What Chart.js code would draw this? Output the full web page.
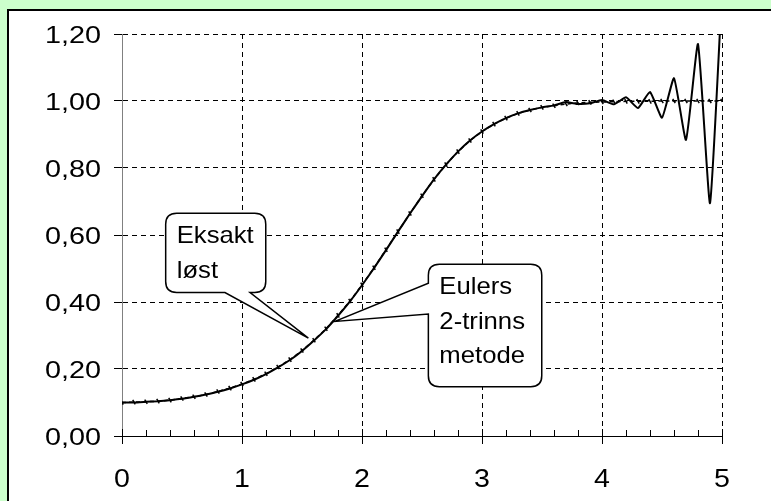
<!DOCTYPE html>
<html>
<head>
<meta charset="utf-8">
<title>Eksakt løst og Eulers 2-trinns metode</title>
<script src="https://cdn.jsdelivr.net/npm/chart.js@4/dist/chart.umd.min.js"></script>
<style>
  html, body { margin: 0; padding: 0; background: #ccffcc; }
  #wrap { position: relative; width: 771px; height: 501px; }
</style>
</head>
<body>
<div id="wrap"><canvas id="chart" width="771" height="501"></canvas></div>
<script>
// x values, step 0.1
const xValues = [
  0.0, 0.1, 0.2, 0.3, 0.4, 0.5, 0.6, 0.7, 0.8, 0.9,
  1.0, 1.1, 1.2, 1.3, 1.4, 1.5, 1.6, 1.7, 1.8, 1.9,
  2.0, 2.1, 2.2, 2.3, 2.4, 2.5, 2.6, 2.7, 2.8, 2.9,
  3.0, 3.1, 3.2, 3.3, 3.4, 3.5, 3.6, 3.7, 3.8, 3.9,
  4.0, 4.1, 4.2, 4.3, 4.4, 4.5, 4.6, 4.7, 4.8, 4.9,
  5.0
];

// "Eksakt løst"
const exactValues = [
  0.100, 0.101, 0.102, 0.104, 0.107, 0.112, 0.117, 0.124, 0.133, 0.143,
  0.155, 0.169, 0.186, 0.206, 0.228, 0.255, 0.286, 0.320, 0.360, 0.403,
  0.451, 0.502, 0.556, 0.610, 0.664, 0.717, 0.766, 0.810, 0.849, 0.882,
  0.909, 0.931, 0.949, 0.963, 0.973, 0.981, 0.986, 0.991, 0.994, 0.996,
  0.997, 0.998, 0.999, 0.999, 0.999, 1.000, 1.000, 1.000, 1.000, 1.000,
  1.000
];

// "Eulers 2-trinns metode"
const eulerValues = [
  0.100, 0.100, 0.102, 0.104, 0.107, 0.111, 0.117, 0.124, 0.132, 0.142,
  0.154, 0.168, 0.185, 0.205, 0.227, 0.254, 0.285, 0.319, 0.359, 0.402,
  0.450, 0.501, 0.555, 0.610, 0.664, 0.716, 0.766, 0.810, 0.849, 0.882,
  0.909, 0.931, 0.949, 0.963, 0.973, 0.981, 0.987, 0.997, 0.991, 0.993,
  1.003, 0.990, 1.011, 0.979, 1.027, 0.950, 1.068, 0.884, 1.170, 0.695,
  1.330
];

const yTicks = [0, 0.2, 0.4, 0.6, 0.8, 1.0, 1.2];
const xTicks = [0, 1, 2, 3, 4, 5];

const FONT = '"Liberation Sans", Arial, sans-serif';

// callouts, placed in data units
const callouts = [
  { lines: ['Eksakt', 'løst'], left: 0.364, right: 1.198, top: 0.665, bottom: 0.428,
    side: 'bottom', base: [0.858, 1.067], tip: [1.553, 0.292] },
  { lines: ['Eulers', '2-trinns', 'metode'], left: 2.553, right: 3.498, top: 0.513, bottom: 0.147,
    side: 'left', base: [0.364, 0.456], tip: [1.775, 0.342] }
];

const yLabel = (v) => v.toFixed(2).replace('.', ',');

// draw text a little wider than the font, like the original
function wideText(ctx, text, x, y, stretch, align) {
  ctx.save();
  ctx.translate(x, y);
  ctx.scale(stretch, 1);
  ctx.textAlign = align;
  ctx.textBaseline = 'alphabetic';
  ctx.fillText(text, 0, 0);
  ctx.restore();
}

const backgroundPlugin = {
  id: 'background',
  beforeDraw(chart) {
    const ctx = chart.ctx;
    ctx.save();
    ctx.fillStyle = '#ccffcc';
    ctx.fillRect(0, 0, chart.width, chart.height);
    ctx.fillStyle = '#ffffff';
    ctx.fillRect(8, 10, chart.width - 8, chart.height - 10);
    ctx.strokeStyle = '#000';
    ctx.lineWidth = 2;
    ctx.beginPath();
    ctx.moveTo(8, chart.height);
    ctx.lineTo(8, 10);
    ctx.lineTo(chart.width, 10);
    ctx.stroke();
    ctx.restore();
  }
};

const axisPlugin = {
  id: 'axisExtras',
  afterDraw(chart) {
    const ctx = chart.ctx;
    const xs = chart.scales.x;
    const ys = chart.scales.y;
    const axisY = ys.getPixelForValue(0);
    ctx.save();
    ctx.strokeStyle = '#000';
    ctx.lineWidth = 1;
    ctx.beginPath();
    for (let i = 0; i <= 25; i++) {
      const px = Math.round(xs.getPixelForValue(i * 0.2)) + 0.5;
      if (i % 5 === 0) {
        ctx.moveTo(px, axisY - 7);
        ctx.lineTo(px, axisY + 8);
      } else {
        ctx.moveTo(px, axisY - 6);
        ctx.lineTo(px, axisY);
      }
    }
    ctx.stroke();

    ctx.fillStyle = '#000';
    ctx.font = '24px ' + FONT;
    yTicks.forEach((v) => {
      wideText(ctx, yLabel(v), ys.left + 101, ys.getPixelForValue(v) + 9, 1.2, 'right');
    });
    ctx.font = '26px ' + FONT;
    xTicks.forEach((v) => {
      wideText(ctx, String(v), xs.getPixelForValue(v), axisY + 51, 1.1, 'center');
    });
    ctx.restore();
  }
};

function calloutPath(ctx, c, xs, ys) {
  const l = xs.getPixelForValue(c.left);
  const r = xs.getPixelForValue(c.right);
  const t = ys.getPixelForValue(c.top);
  const b = ys.getPixelForValue(c.bottom);
  const rad = 11;
  const tx = xs.getPixelForValue(c.tip[0]);
  const ty = ys.getPixelForValue(c.tip[1]);
  ctx.beginPath();
  ctx.moveTo(l + rad, t);
  ctx.lineTo(r - rad, t);
  ctx.quadraticCurveTo(r, t, r, t + rad);
  ctx.lineTo(r, b - rad);
  ctx.quadraticCurveTo(r, b, r - rad, b);
  if (c.side === 'bottom') {
    ctx.lineTo(xs.getPixelForValue(c.base[1]), b);
    ctx.lineTo(tx, ty);
    ctx.lineTo(xs.getPixelForValue(c.base[0]), b);
  }
  ctx.lineTo(l + rad, b);
  ctx.quadraticCurveTo(l, b, l, b - rad);
  if (c.side === 'left') {
    ctx.lineTo(l, ys.getPixelForValue(c.base[0]));
    ctx.lineTo(tx, ty);
    ctx.lineTo(l, ys.getPixelForValue(c.base[1]));
  }
  ctx.lineTo(l, t + rad);
  ctx.quadraticCurveTo(l, t, l + rad, t);
  ctx.closePath();
  return { l, t };
}

const calloutPlugin = {
  id: 'callouts',
  afterDatasetsDraw(chart) {
    const ctx = chart.ctx;
    const xs = chart.scales.x;
    const ys = chart.scales.y;
    ctx.save();
    callouts.forEach((c) => {
      const box = calloutPath(ctx, c, xs, ys);
      ctx.fillStyle = '#fff';
      ctx.fill();
      ctx.strokeStyle = '#000';
      ctx.lineWidth = 1.5;
      ctx.stroke();
      ctx.fillStyle = '#000';
      ctx.font = '24px ' + FONT;
      c.lines.forEach((line, i) => {
        wideText(ctx, line, box.l + 11, box.t + 30 + i * 34.5, 1.07, 'left');
      });
    });
    ctx.restore();
  }
};

const toPoints = (values) => xValues.map((x, i) => ({ x, y: values[i] }));

new Chart(document.getElementById('chart'), {
  type: 'line',
  data: {
    datasets: [
      {
        label: 'Eulers 2-trinns metode',
        data: toPoints(eulerValues),
        borderColor: '#000',
        borderWidth: 2,
        pointRadius: 0,
        tension: 0.15,
        fill: false
      },
      {
        label: 'Eksakt løst',
        data: toPoints(exactValues),
        borderColor: '#000',
        borderWidth: 1.5,
        borderDash: [4, 3],
        pointStyle: 'line',
        pointRotation: 60,
        pointRadius: 2.5,
        pointBorderWidth: 1.5,
        pointBorderColor: '#000',
        fill: false
      }
    ]
  },
  options: {
    responsive: false,
    animation: false,
    layout: { padding: { left: 0, top: 34, right: 49, bottom: 0 } },
    plugins: {
      legend: { display: false },
      tooltip: { enabled: false }
    },
    scales: {
      x: {
        type: 'linear',
        min: 0,
        max: 5,
        afterBuildTicks(scale) {
          scale.ticks = xTicks.map(v => ({ value: v }));
        },
        afterFit(scale) { scale.height = 65; },
        grid: {
          color: (c) => (c.tick && c.tick.value === 0 ? 'rgba(0,0,0,0)' : '#000'),
          lineWidth: 1,
          drawTicks: false
        },
        border: { color: '#000', width: 1, dash: [5, 4] },
        ticks: { display: false }
      },
      y: {
        min: 0,
        max: 1.2,
        afterBuildTicks(scale) {
          scale.ticks = yTicks.map(v => ({ value: v }));
        },
        afterFit(scale) { scale.width = 122; },
        grid: {
          color: '#000',
          lineWidth: 1,
          tickLength: 8,
          tickColor: '#000'
        },
        border: { color: '#808080', width: 1, dash: [5, 4] },
        ticks: { display: false }
      }
    }
  },
  plugins: [backgroundPlugin, axisPlugin, calloutPlugin]
});
</script>
</body>
</html>
